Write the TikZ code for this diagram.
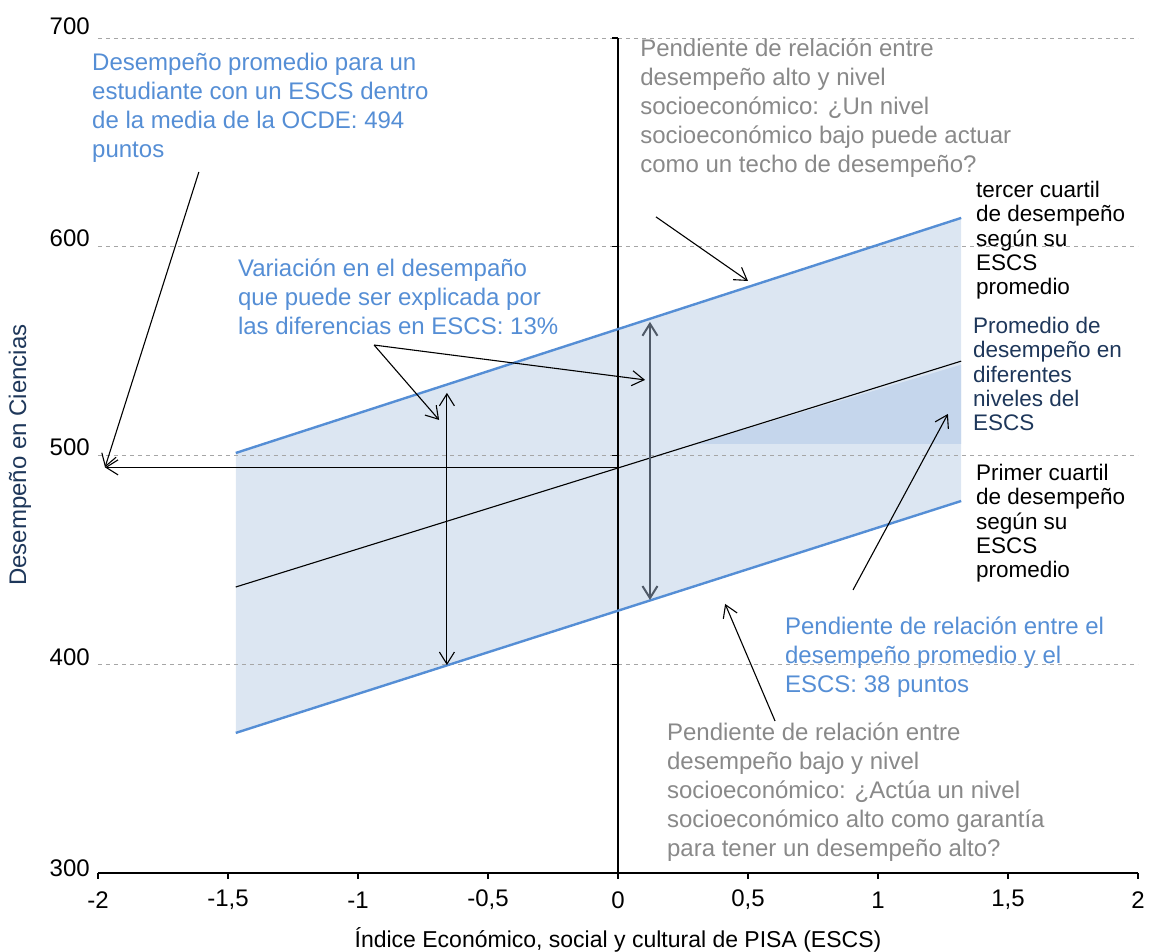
\documentclass[tikz,border=0pt]{standalone}
\usepackage{fontspec}
\setmainfont{Liberation Sans}
\usetikzlibrary{arrows.meta}

\definecolor{azul}{RGB}{85,142,213}
\definecolor{banda}{RGB}{220,230,242}
\definecolor{bandaosc}{RGB}{197,214,236}
\definecolor{gristxt}{RGB}{137,137,137}
\definecolor{grisrej}{RGB}{166,166,166}
\definecolor{marino}{RGB}{30,55,90}
\definecolor{flechaosc}{RGB}{80,90,104}

\begin{document}
\begin{tikzpicture}[x=260pt, y=2.0875pt,
		>={Straight Barb[length=12pt,width=15pt]},
		texto/.style={anchor=north west, inner sep=0pt, align=left, font=\fontsize{24}{29}\selectfont},
		textocorto/.style={anchor=north west, inner sep=0pt, align=left, font=\fontsize{22.5}{24.3}\selectfont},
		rejilla/.style={grisrej, dashed, dash pattern=on 4pt off 4pt, line width=0.9pt},
		flecha/.style={->, black, line width=1.1pt},
		cifra/.style={font=\fontsize{24}{26}\selectfont, inner sep=0pt}]
				% Рамка рисунка
				\useasboundingbox (-2.3769,262.16) rectangle (2.0423,718.2);
				
				% Полоса между квартилями
				\fill[banda] (-1.47,501.2) -- (1.32,613.8) -- (1.32,478.2) -- (-1.47,367.1) -- cycle;
				\fill[bandaosc] (0.3,505.5) -- (1.32,505.5) -- (1.32,543.5) -- cycle;
				
				% Сетка
				\draw[rejilla] (-2,400) -- (2,400);
				\draw[rejilla] (-2,500) -- (2,500);
				\draw[rejilla] (-2,600) -- (2,600);
				\draw[rejilla] (-2,700) -- (2,700);
				
				% Оси
				\draw[black, line width=1.1pt] (-2,300) -- (2,300);
				\draw[black, line width=1.1pt] (0,300) -- (0,700);
				\foreach \t in {-2,-1.5,-1,-0.5,0,0.5,1,1.5,2}
					\draw[black, line width=1.1pt] (\t,300) -- (\t,297);
				\foreach \v in {400,500,600,700}
					\draw[black, line width=1.1pt] (-0.022,\v) -- (0,\v);
				
				% Подписи делений
				\node[cifra, anchor=east] (y300) at (-2.031,302.4) {300};
				\node[cifra, anchor=east] (y400) at (-2.031,403.5) {400};
				\node[cifra, anchor=east] (y500) at (-2.031,504.1) {500};
				\node[cifra, anchor=east] (y600) at (-2.031,604.2) {600};
				\node[cifra, anchor=east] (y700) at (-2.031,705.7) {700};
				\node[cifra] (xa) at (-2,287.1) {-2};
				\node[cifra] (xb) at (-1.5,287.1) {-1,5};
				\node[cifra] (xc) at (-1,287.1) {-1};
				\node[cifra] (xd) at (-0.5,287.1) {-0,5};
				\node[cifra] (xe) at (0,287.1) {0};
				\node[cifra] (xf) at (0.5,287.1) {0,5};
				\node[cifra] (xg) at (1,287.1) {1};
				\node[cifra] (xh) at (1.5,287.1) {1,5};
				\node[cifra] (xi) at (2,287.1) {2};
				
				% Названия осей
				\node[cifra, font=\fontsize{23}{26}\selectfont] (ejex) at (0,267.9) {Índice Económico, social y cultural de PISA (ESCS)};
				\node[cifra, marino, rotate=90] (ejey) at (-2.3,500.2) {Desempeño en Ciencias};
				
				% Линии квартилей и среднего
				\coordinate (supA) at (-1.47,501.2);
				\coordinate (supB) at (1.32,613.8);
				\coordinate (infA) at (-1.47,367.1);
				\coordinate (infB) at (1.32,478.2);
				\coordinate (medA) at (-1.47,437);
				\coordinate (medB) at (1.32,545.2);
				\draw[azul, line width=2.4pt] (supA) -- (supB);
				\draw[azul, line width=2.4pt] (infA) -- (infB);
				\draw[black, line width=1.1pt] (medA) -- (medB);
				
				% Точки стрелок
				\coordinate (med0) at (0,494.3);
				\coordinate (p494) at (-1.973,494.3);
				\coordinate (sDes) at (-1.612,635.8);
				\coordinate (sAlto) at (0.146,614.3);
				\coordinate (fAlto) at (0.5,583.6);
				\coordinate (sVar) at (-0.938,552.9);
				\coordinate (fVarA) at (-0.688,517);
				\coordinate (fVarB) at (0.104,536.2);
				\coordinate (dobA1) at (-0.658,530);
				\coordinate (dobA2) at (-0.658,399.6);
				\coordinate (dobB1) at (0.123,564);
				\coordinate (dobB2) at (0.123,430.8);
				\coordinate (sPend) at (0.904,435.6);
				\coordinate (fPend) at (1.269,519.9);
				\coordinate (sBajo) at (0.604,372.8);
				\coordinate (fBajo) at (0.412,428.9);
				
				% Стрелки
				\draw[flecha] (med0) -- (p494);
				\draw[flecha] (sDes) -- (p494);
				\draw[flecha] (sAlto) -- (fAlto);
				\draw[flecha] (sVar) -- (fVarA);
				\draw[flecha] (sVar) -- (fVarB);
				\draw[flecha, <->] (dobA1) -- (dobA2);
				\draw[flecha, <->, flechaosc, line width=2pt] (dobB1) -- (dobB2);
				\draw[flecha] (sPend) -- (fPend);
				\draw[flecha] (sBajo) -- (fBajo);
				
				% Подписи
				\node[texto, azul] (promedio) at (-2.023,692.8) {Desempeño promedio para un\\estudiante con un ESCS dentro\\de la media de la OCDE: 494\\puntos};
				\node[texto, gristxt] (techo) at (0.085,699.5) {Pendiente de relación entre\\desempeño alto y nivel\\socioeconómico: ¿Un nivel\\socioeconómico bajo puede actuar\\como un techo de desempeño?};
				\node[texto, azul] (variacion) at (-1.462,594.1) {Variación en el desempaño\\que puede ser explicada por\\las diferencias en ESCS: 13\%};
				\node[textocorto, black] (tercer) at (1.377,631.5) {tercer cuartil\\de desempeño\\según su\\ESCS\\promedio};
				\node[textocorto, marino] (niveles) at (1.365,566.3) {Promedio de\\desempeño en\\diferentes\\niveles del\\ESCS};
				\node[textocorto, black] (primer) at (1.377,495.9) {Primer cuartil\\de desempeño\\según su\\ESCS\\promedio};
				\node[texto, azul] (pendiente) at (0.642,422.6) {Pendiente de relación entre el\\desempeño promedio y el\\ESCS: 38 puntos};
				\node[texto, gristxt] (garantia) at (0.188,371.9) {Pendiente de relación entre\\desempeño bajo y nivel\\socioeconómico: ¿Actúa un nivel\\socioeconómico alto como garantía\\para tener un desempeño alto?};
			\end{tikzpicture}
\end{document}
